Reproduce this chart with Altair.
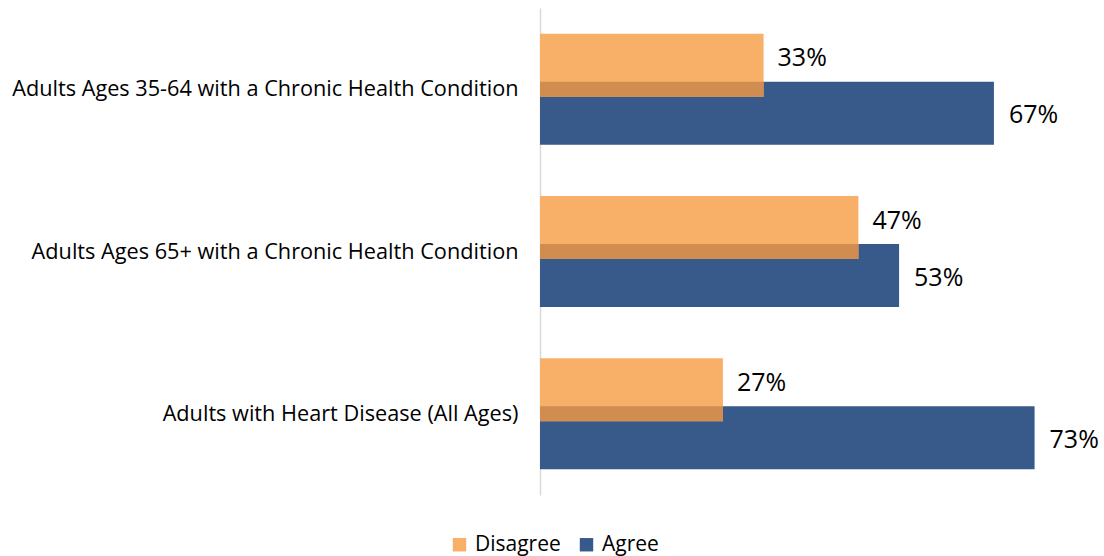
import altair as alt
import pandas as pd

# Survey groups and response shares (%)
categories = [
    "Adults Ages 35-64 with a Chronic Health Condition",
    "Adults Ages 65+ with a Chronic Health Condition",
    "Adults with Heart Disease (All Ages)",
]
disagree = [33, 47, 27]
agree = [67, 53, 73]

series = ["Disagree", "Agree"]
colors = ["#F8AF68", "#375A8A"]
overlap_color = "#D08D4F"
FONT = "Open Sans"

rows = []
for c, d, a in zip(categories, disagree, agree):
    rows.append({"group": c, "series": "Disagree", "value": d})
    rows.append({"group": c, "series": "Agree", "value": a})
df = pd.DataFrame(rows)
df["label"] = df["value"].astype(str) + "%"

x = alt.X("value:Q", scale=alt.Scale(domain=[0, 80]), axis=None)
y = alt.Y(
    "group:N",
    sort=categories,
    title=None,
    scale=alt.Scale(paddingInner=0, paddingOuter=0),
    axis=alt.Axis(
        ticks=False,
        grid=False,
        labelPadding=22,
        labelFontSize=21.7,
        labelFont=FONT,
        labelColor="#000000",
        labelLimit=700,
        domainColor="#D9D9D9",
        domainWidth=1.5,
    ),
)
color = alt.Color(
    "series:N",
    scale=alt.Scale(domain=series, range=colors),
    legend=alt.Legend(
        title=None,
        orient="none",
        direction="horizontal",
        legendX=-91,
        legendY=526,
        symbolType="square",
        symbolSize=180,
        symbolStrokeWidth=0,
        labelFontSize=21,
        labelFont=FONT,
        labelColor="#000000",
        labelOffset=5,
        columnPadding=15,
    ),
)

base = alt.Chart(df)
agree_df = alt.datum.series == "Agree"
disagree_df = alt.datum.series == "Disagree"

agree_bars = base.transform_filter(agree_df).mark_bar(height=63, yOffset=24).encode(x=x, y=y, color=color)
disagree_bars = base.transform_filter(disagree_df).mark_bar(height=63, yOffset=-24).encode(x=x, y=y, color=color)
# band where the Disagree bar sits over the Agree bar
overlap = base.transform_filter(disagree_df).mark_bar(height=15, yOffset=0, color=overlap_color).encode(x=x, y=y)

agree_text = base.transform_filter(agree_df).mark_text(
    align="left", baseline="middle", dx=15, dy=26, fontSize=25, font=FONT, color="#000000"
).encode(x=x, y=y, text="label:N")
disagree_text = base.transform_filter(disagree_df).mark_text(
    align="left", baseline="middle", dx=14, dy=-31, fontSize=25, font=FONT, color="#000000"
).encode(x=x, y=y, text="label:N")

chart = (
    alt.layer(agree_bars, disagree_bars, overlap, agree_text, disagree_text)
    .properties(
        width=542,
        height=487,
        autosize=alt.AutoSizeParams(type="none"),
        padding={"left": 540, "top": 8, "right": 22, "bottom": 61},
        background="#FFFFFF",
    )
    .configure_view(stroke=None)
)

chart.save("out.html", embed_options={"renderer": "svg", "actions": False})
